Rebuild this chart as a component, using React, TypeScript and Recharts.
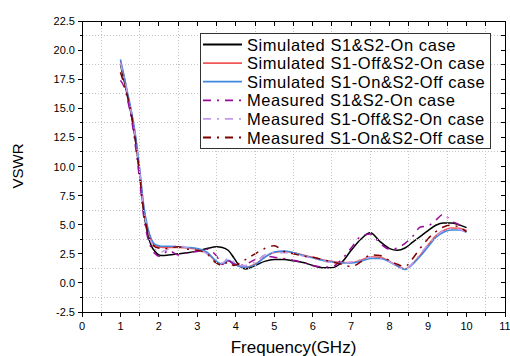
import React from 'react';
import { LineChart, Line, XAxis, YAxis, Legend } from 'recharts';

// frequency points (GHz) shared by all traces
const freq = [
  1.0, 1.1, 1.2, 1.3, 1.4, 1.5, 1.6, 1.7, 1.8, 1.9, 2.0, 2.1, 2.25, 2.5, 2.75, 3.0,
  3.25, 3.5, 3.65, 3.8, 3.95, 4.1, 4.25, 4.5, 4.75, 5.0, 5.25, 5.5, 5.75, 6.0, 6.25, 6.5,
  6.75, 7.0, 7.25, 7.5, 7.75, 8.0, 8.2, 8.4, 8.6, 8.8, 9.0, 9.2, 9.4, 9.6, 9.8, 10.0,
];

const simS1S2On = [
  18.8, 17.3, 15.8, 14.1, 12.0, 9.3, 6.3, 4.3, 3.2, 2.7, 2.4, 2.35, 2.4, 2.5, 2.6, 2.75,
  2.95, 3.1, 3.05, 2.8, 2.15, 1.45, 1.2, 1.5, 1.85, 2.0, 2.0, 1.9, 1.75, 1.5, 1.3, 1.3,
  1.75, 2.8, 3.75, 4.3, 3.55, 2.95, 2.8, 3.0, 3.5, 4.0, 4.5, 4.95, 5.15, 5.15, 5.0, 4.75,
];
const simS1OffS2On = [
  19.1, 17.6, 16.0, 14.4, 12.3, 9.6, 6.6, 4.7, 3.7, 3.2, 3.1, 3.05, 3.05, 3.05, 3.0, 2.9,
  2.6, 1.8, 1.6, 1.9, 1.7, 1.4, 1.35, 1.6, 2.2, 2.6, 2.7, 2.6, 2.4, 2.2, 2.0, 1.85,
  1.75, 1.75, 1.95, 2.25, 2.2, 1.85, 1.45, 1.2, 1.65, 2.4, 3.25, 4.05, 4.5, 4.72, 4.7, 4.5,
];
const simS1OnS2Off = [
  19.2, 17.7, 16.1, 14.5, 12.5, 9.8, 6.8, 4.9, 3.8, 3.3, 3.2, 3.15, 3.15, 3.1, 3.05, 2.95,
  2.65, 1.85, 1.6, 1.95, 1.7, 1.4, 1.35, 1.55, 2.2, 2.65, 2.75, 2.6, 2.35, 2.15, 1.95, 1.8,
  1.7, 1.7, 1.85, 2.1, 2.1, 1.8, 1.45, 1.15, 1.6, 2.3, 3.1, 3.9, 4.35, 4.55, 4.55, 4.35,
];
const measS1S2On = [
  17.4, 16.8, 15.5, 13.8, 11.5, 8.8, 5.8, 4.0, 3.0, 2.5, 2.3, 2.4, 2.8, 2.4, 2.6, 2.7,
  2.9, 2.3, 1.6, 1.9, 1.6, 1.5, 1.6, 2.0, 2.3, 2.2, 2.1, 1.95, 1.75, 1.5, 1.35, 1.4,
  2.0, 3.0, 4.0, 4.2, 3.4, 2.9, 3.0, 3.4, 4.0, 4.8, 4.9, 5.4, 5.9, 5.3, 5.0, 4.3,
];
const measS1OffS2On = [
  18.9, 17.5, 16.0, 14.3, 12.2, 9.5, 6.5, 4.6, 3.5, 2.9, 2.6, 2.7, 2.9, 3.2, 3.0, 2.85,
  2.5, 1.7, 1.7, 2.1, 1.8, 1.5, 1.5, 1.8, 2.4, 2.6, 2.6, 2.5, 2.3, 2.1, 1.9, 1.75,
  1.7, 1.8, 2.0, 2.2, 2.1, 1.8, 1.4, 1.2, 1.7, 2.5, 3.3, 4.0, 4.5, 4.65, 4.6, 4.3,
];
const measS1OnS2Off = [
  18.1, 17.0, 15.8, 14.2, 12.0, 9.3, 6.3, 4.5, 3.5, 3.1, 3.0, 2.9, 3.0, 3.1, 2.9, 2.8,
  2.5, 1.7, 1.5, 1.8, 1.5, 1.7, 2.0, 2.5, 2.95, 3.2, 2.7, 2.5, 2.3, 2.2, 2.0, 1.8,
  1.6, 1.4, 1.8, 2.4, 2.35, 1.9, 1.6, 1.4, 2.1, 3.0, 3.8, 4.4, 4.8, 4.95, 4.8, 4.4,
];

// axis ticks: integers / multiples of 2.5 are labelled, the halves are minor ticks + grid
const xAllTicks = [0, 0.5, 1, 1.5, 2, 2.5, 3, 3.5, 4, 4.5, 5, 5.5, 6, 6.5, 7, 7.5, 8, 8.5, 9, 9.5, 10, 10.5, 11];
const yAllTicks = [
  -2.5, -1.25, 0, 1.25, 2.5, 3.75, 5, 6.25, 7.5, 8.75, 10, 11.25, 12.5, 13.75, 15, 16.25,
  17.5, 18.75, 20, 21.25, 22.5,
];
const X_DOMAIN = [0, 11];
const Y_DOMAIN = [-2.5, 22.5];

const DASH_DOT = '8 6 2 6';
const FONT = '"Liberation Sans", Arial, Helvetica, sans-serif';
const W = 510;
const H = 356;
const PLOT_TOP = 21;
const PLOT_BOTTOM = 312;
const PLOT_LEFT = 82;
const PLOT_RIGHT = 505;

const series = [
  { key: 'simBoth', name: 'Simulated S1&S2-On case', color: '#000000', dash: undefined, values: simS1S2On },
  { key: 'simOff1', name: 'Simulated S1-Off&S2-On case', color: '#f25656', dash: undefined, values: simS1OffS2On },
  { key: 'simOff2', name: 'Simulated S1-On&S2-Off case', color: '#3f88e0', dash: undefined, values: simS1OnS2Off },
  { key: 'measBoth', name: 'Measured S1&S2-On case', color: '#9a0a9a', dash: DASH_DOT, values: measS1S2On },
  { key: 'measOff1', name: 'Measured S1-Off&S2-On case', color: '#c39ae8', dash: DASH_DOT, values: measS1OffS2On },
  { key: 'measOff2', name: 'Measured S1-On&S2-Off case', color: '#800000', dash: DASH_DOT, values: measS1OnS2Off },
];

const data = freq.map((f, i) => {
  const row: Record<string, number> = { f };
  series.forEach((s) => {
    row[s.key] = s.values[i];
  });
  return row;
});

const isMajorX = (v: number) => Number.isInteger(v);
const isMajorY = (v: number) => Math.abs(v / 2.5 - Math.round(v / 2.5)) < 1e-6;

// frame, tick marks and dotted grid: a plain svg laid over the chart, pixel aligned
const snap = (p: number) => Math.floor(p) + 0.5;
const px = (v: number) => snap(PLOT_LEFT + ((v - X_DOMAIN[0]) / (X_DOMAIN[1] - X_DOMAIN[0])) * (PLOT_RIGHT - PLOT_LEFT));
const py = (v: number) => snap(PLOT_BOTTOM - ((v - Y_DOMAIN[0]) / (Y_DOMAIN[1] - Y_DOMAIN[0])) * (PLOT_BOTTOM - PLOT_TOP));
const L = snap(PLOT_LEFT);
const R = snap(PLOT_RIGHT);
const T = snap(PLOT_TOP);
const B = snap(PLOT_BOTTOM);

const Frame = () => (
  <svg
    width={W}
    height={H}
    shapeRendering="crispEdges"
    style={{ position: 'absolute', left: 0, top: 0, pointerEvents: 'none' }}
  >
    {xAllTicks.filter((v) => !isMajorX(v)).map((v) => (
      <line key={`gx${v}`} x1={px(v)} x2={px(v)} y1={T} y2={B} stroke="#c4c4c4" strokeWidth={1} strokeDasharray="1 2" />
    ))}
    {yAllTicks.filter((v) => !isMajorY(v)).map((v) => (
      <line key={`gy${v}`} x1={L} x2={R} y1={py(v)} y2={py(v)} stroke="#c4c4c4" strokeWidth={1} strokeDasharray="1 2" />
    ))}
    {xAllTicks.map((v) => (
      <g key={`tx${v}`} stroke="#000" strokeWidth={1}>
        <line x1={px(v)} x2={px(v)} y1={B} y2={B + (isMajorX(v) ? 4 : 3)} />
        <line x1={px(v)} x2={px(v)} y1={T} y2={T + 4} />
      </g>
    ))}
    {yAllTicks.map((v) => (
      <g key={`ty${v}`} stroke="#000" strokeWidth={1}>
        <line x1={L - (isMajorY(v) ? 5 : 3)} x2={L} y1={py(v)} y2={py(v)} />
        <line x1={R - 5} x2={R} y1={py(v)} y2={py(v)} />
      </g>
    ))}
    <rect x={L} y={T} width={R - L} height={B - T} fill="none" stroke="#000" strokeWidth={1} />
  </svg>
);

const BottomTick = (props: any) => {
  const { x, y, payload } = props;
  const v = payload.value as number;
  if (!isMajorX(v)) return <g />;
  return (
    <text x={x} y={y + 17.5} textAnchor="middle" fontSize={11} fontFamily={FONT} fill="#000">
      {v}
    </text>
  );
};

const LeftTick = (props: any) => {
  const { x, y, payload } = props;
  const v = payload.value as number;
  if (!isMajorY(v)) return <g />;
  return (
    <text x={x - 7} y={y + 4} textAnchor="end" fontSize={11} fontFamily={FONT} fill="#000">
      {v.toFixed(1)}
    </text>
  );
};

const LegendBox = () => (
  <svg width={292} height={117} style={{ display: 'block' }}>
    <rect x={0.5} y={0.5} width={290} height={115} fill="#fff" stroke="#333" />
    {series.map((s, i) => {
      const y = 11.5 + i * 18.6;
      return (
        <g key={s.key}>
          <line x1={3} x2={42} y1={y} y2={y} stroke={s.color} strokeWidth={1.8} strokeDasharray={s.dash} />
          <text x={47} y={y + 6} fontSize={16.5} letterSpacing={0.55} fontFamily={FONT} fill="#000">
            {s.name}
          </text>
        </g>
      );
    })}
  </svg>
);

const YTitle = () => (
  <text x={23} y={166} transform="rotate(-90 23 166)" textAnchor="middle" fontSize={15} fontFamily={FONT} fill="#000">
    VSWR
  </text>
);

const XTitle = () => (
  <text x={293.5} y={352.5} textAnchor="middle" fontSize={17} fontFamily={FONT} fill="#000">
    Frequency(GHz)
  </text>
);

export default function App() {
  return (
    <div style={{ position: 'absolute', left: 0, top: 0, width: W, height: H, background: '#fff' }}>
      <div style={{ position: 'absolute', left: 0, top: 0 }}>
        <LineChart width={W} height={H} data={data} margin={{ top: PLOT_TOP, right: W - PLOT_RIGHT, bottom: 0, left: 0 }}>
          <XAxis
            type="number"
            dataKey="f"
            domain={X_DOMAIN}
            ticks={xAllTicks}
            interval={0}
            height={H - PLOT_BOTTOM}
            tickSize={0}
            tickMargin={0}
            axisLine={false}
            tickLine={false}
            tick={<BottomTick />}
            label={<XTitle />}
          />
          <YAxis
            type="number"
            domain={Y_DOMAIN}
            ticks={yAllTicks}
            interval={0}
            width={PLOT_LEFT}
            tickSize={0}
            tickMargin={0}
            axisLine={false}
            tickLine={false}
            tick={<LeftTick />}
            label={<YTitle />}
          />

          {series.map((s) => (
            <Line
              key={s.key}
              type="monotone"
              dataKey={s.key}
              name={s.name}
              stroke={s.color}
              strokeWidth={1.5}
              strokeDasharray={s.dash}
              dot={false}
              isAnimationActive={false}
            />
          ))}
        </LineChart>
      </div>
      <Frame />
      {/* legend box drawn above the frame so grid lines do not cross it */}
      <div style={{ position: 'absolute', left: 200, top: 33 }}>
        <LegendBox />
      </div>
    </div>
  );
}
